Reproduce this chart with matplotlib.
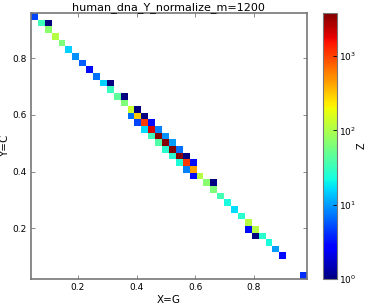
import numpy as np
import matplotlib
matplotlib.use("Agg")
from matplotlib import pyplot as plt
from matplotlib.colors import LogNorm

TITLE = "human_dna_Y_normalize_m=1200"

# G fraction, C fraction and count of each occupied bin
g_frac = [0.040, 0.075, 0.099, 0.099, 0.122, 0.146, 0.169, 0.193, 0.216, 0.240,
          0.263, 0.287, 0.310, 0.310, 0.334, 0.357, 0.357, 0.381, 0.404,
          0.381, 0.404, 0.428, 0.404, 0.428, 0.451, 0.428, 0.451, 0.475,
          0.451, 0.475, 0.498, 0.475, 0.498, 0.522, 0.498, 0.522, 0.545,
          0.522, 0.545, 0.569, 0.545, 0.569, 0.592, 0.569, 0.592, 0.592, 0.616,
          0.639, 0.663, 0.663, 0.686, 0.710, 0.733, 0.757, 0.780, 0.780, 0.804,
          0.804, 0.827, 0.851, 0.874, 0.898, 0.980]
c_frac = [0.960, 0.925, 0.925, 0.901, 0.878, 0.854, 0.831, 0.807, 0.784, 0.760,
          0.737, 0.713, 0.713, 0.690, 0.666, 0.666, 0.643, 0.619, 0.619,
          0.596, 0.596, 0.596, 0.572, 0.572, 0.572, 0.549, 0.549, 0.549,
          0.525, 0.525, 0.525, 0.502, 0.502, 0.502, 0.478, 0.478, 0.478,
          0.455, 0.455, 0.455, 0.431, 0.431, 0.431, 0.408, 0.408, 0.384, 0.384,
          0.361, 0.361, 0.337, 0.314, 0.290, 0.267, 0.243, 0.220, 0.196, 0.196,
          0.173, 0.173, 0.149, 0.126, 0.102, 0.020]
counts = [5, 33, 1, 72, 110, 62, 15, 9, 6, 3,
          7, 15, 1, 32, 45, 1, 62, 130, 1,
          7, 300, 1, 5, 1050, 3, 17, 2000, 8,
          33, 3500, 9, 40, 3600, 10, 27, 3800, 7,
          27, 3400, 1, 25, 1100, 3, 8, 450, 3, 110,
          72, 1, 62, 35, 23, 17, 27, 110, 3, 110,
          1, 27, 23, 10, 3, 4]

fig = plt.figure(figsize=(3.68, 3.04), dpi=100)
ax = fig.add_axes([0.084, 0.082, 0.750, 0.875])
cax = fig.add_axes([0.878, 0.082, 0.038, 0.875])

h = ax.hist2d(g_frac, c_frac, bins=40, weights=counts, cmin=0.5, cmap="jet",
              norm=LogNorm(vmin=1, vmax=max(counts)))

ax.set_title(TITLE, fontsize=8, pad=2)
ax.set_xlabel("X=G", fontsize=7.5, labelpad=2)
ax.set_ylabel("Y=C", fontsize=7.5, labelpad=2)
ax.set_xticks([0.2, 0.4, 0.6, 0.8])
ax.set_yticks([0.2, 0.4, 0.6, 0.8])
ax.tick_params(direction="in", length=3, width=0.6, color="#777777",
               labelsize=6.5, pad=3, top=True, right=True)
for sp in ax.spines.values():
    sp.set_color("#777777")
    sp.set_linewidth(1.2)

cb = fig.colorbar(h[3], cax=cax)
cb.ax.minorticks_off()
cb.ax.tick_params(direction="in", length=3, width=0.6, labelsize=6.5, pad=1.5)
cb.outline.set_edgecolor("#777777")
cb.set_label("Z", fontsize=7, labelpad=0)

fig.savefig("out.png", dpi=100, facecolor="white")
